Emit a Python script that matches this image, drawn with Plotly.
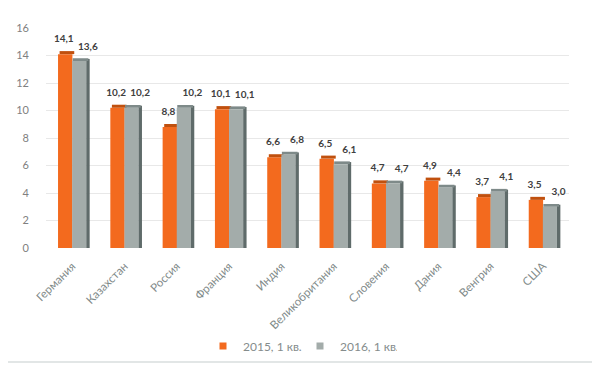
import plotly.graph_objects as go

categories = ["Германия", "Казахстан", "Россия", "Франция", "Индия",
              "Великобритания", "Словения", "Дания", "Венгрия", "США"]
values_2015 = [14.1, 10.2, 8.8, 10.1, 6.6, 6.5, 4.7, 4.9, 3.7, 3.5]
values_2016 = [13.6, 10.2, 10.2, 10.1, 6.8, 6.1, 4.7, 4.4, 4.1, 3.0]
series_names = ["2015, 1 кв.", "2016, 1 кв."]
y_ticks = [0, 2, 4, 6, 8, 10, 12, 14, 16]

ORANGE = "#F36A1E"
ORANGE_DARK = "#C0500E"
GRAY = "#A3ACAA"
GRAY_SIDE = "#5F6B6A"
FONT = "Lato"

idx = list(range(len(categories)))
fmt = lambda v: f"{v:.1f}".replace(".", ",")

fig = go.Figure()
# orange front
fig.add_trace(go.Bar(x=idx, y=values_2015, name=series_names[0], marker_color=ORANGE,
                     offset=-0.27, width=0.275, marker_line_width=0, hoverinfo="skip",
                     showlegend=False))
# orange top cap
fig.add_trace(go.Bar(x=idx, y=[0.22] * len(idx), base=values_2015, showlegend=False,
                     marker_color=ORANGE_DARK, offset=-0.24, width=0.28,
                     marker_line_width=0, hoverinfo="skip"))
# gray front
fig.add_trace(go.Bar(x=idx, y=values_2016, name=series_names[1], marker_color=GRAY,
                     offset=0.0, width=0.27, marker_line_width=0, hoverinfo="skip",
                     showlegend=False))
# gray side
fig.add_trace(go.Bar(x=idx, y=[v + 0.15 for v in values_2016], showlegend=False,
                     marker_color=GRAY_SIDE, offset=0.27, width=0.065,
                     marker_line_width=0, hoverinfo="skip"))
# gray top cap
fig.add_trace(go.Bar(x=idx, y=[0.2] * len(idx), base=values_2016, showlegend=False,
                     marker_color="#7E8A89", offset=0.01, width=0.3,
                     marker_line_width=0, hoverinfo="skip"))

# data labels
label_font = dict(family=FONT, size=10, color="#404040", weight="bold")
fig.add_trace(go.Scatter(x=[i - 0.16 for i in idx], y=[v + 0.7 for v in values_2015],
                         mode="text", text=[fmt(v) for v in values_2015],
                         textposition="top center", showlegend=False, hoverinfo="skip",
                         textfont=label_font))
fig.add_trace(go.Scatter(x=[i + 0.3 for i in idx], y=[v + 0.65 for v in values_2016],
                         mode="text", text=[fmt(v) for v in values_2016],
                         textposition="top center", showlegend=False, hoverinfo="skip",
                         textfont=label_font))

# legend entries (small square swatches)
for name, color in zip(series_names, [ORANGE, GRAY]):
    fig.add_trace(go.Scatter(x=[None], y=[None], mode="markers", name=name,
                             marker=dict(symbol="square", size=7, color=color),
                             hoverinfo="skip"))

fig.update_layout(
    width=600, height=367,
    margin=dict(l=38, r=39, t=20, b=127),
    plot_bgcolor="white", paper_bgcolor="white",
    barmode="overlay",
    font=dict(family=FONT, color="#7F7F7F"),
    showlegend=True,
    legend=dict(orientation="h", x=(300 - 46) / 523, xanchor="center",
                y=-(346 - 248) / 220, yanchor="middle",
                font=dict(size=12, color="#858C8C"), itemwidth=30,
                entrywidth=52, entrywidthmode="pixels",
                traceorder="normal"),
    xaxis=dict(range=[-0.5, 9.5], tickmode="array", tickvals=idx, ticktext=categories,
               tickangle=-45, tickfont=dict(size=11.5, color="#7F8A89"),
               showgrid=False, zeroline=False, showline=False,
               ticks="outside", ticklen=6, tickcolor="rgba(0,0,0,0)",
               automargin=False),
    yaxis=dict(range=[0, 16], tickmode="array", tickvals=y_ticks,
               ticktext=[str(t) for t in y_ticks],
               tickfont=dict(size=11, color="#808080"),
               showgrid=True, gridcolor="#E8E8E8", gridwidth=1,
               zeroline=False, showline=False, ticks="", ticklabelstandoff=16,
               automargin=False),
    shapes=[dict(type="rect", xref="paper", yref="paper",
                 x0=-46 / 523, x1=(599 - 46) / 523,
                 y0=(248 - 362) / 220, y1=(248 - 2) / 220,
                 line=dict(color="#E2E6E6", width=2), layer="below")],
)

fig.write_html("out.html")
